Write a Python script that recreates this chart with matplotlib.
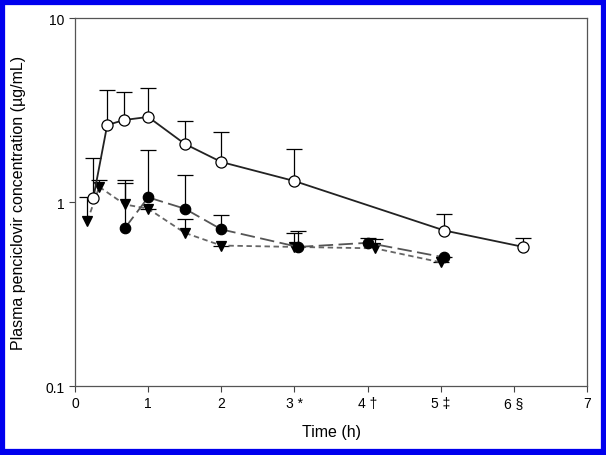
import numpy as np
import matplotlib.pyplot as plt
from matplotlib.patches import Rectangle

plt.rcParams['font.family'] = ['Liberation Sans', 'DejaVu Sans']

# open circles (solid line)
t_open = [0.25, 0.44, 0.67, 1.0, 1.5, 2.0, 3.0, 5.05, 6.13]
c_open = [1.05, 2.62, 2.79, 2.9, 2.07, 1.65, 1.30, 0.70, 0.57]
e_open = [1.73, 4.06, 3.96, 4.17, 2.76, 2.4, 1.94, 0.86, 0.64]

# filled circles (long dash)
t_fill = [0.68, 1.0, 1.5, 2.0, 3.05, 4.0, 5.05]
c_fill = [0.72, 1.06, 0.92, 0.71, 0.57, 0.60, 0.50]
e_fill = [1.32, 1.92, 1.40, 0.85, 0.70, 0.64, 0.50]

# triangles (short dash)
t_tri = [0.17, 0.33, 0.68, 1.0, 1.5, 2.0, 3.0, 4.1, 5.0]
c_tri = [0.79, 1.21, 0.97, 0.92, 0.68, 0.58, 0.57, 0.56, 0.47]
e_tri = [1.06, 1.32, 1.27, 0.92, 0.81, 0.58, 0.68, 0.63, 0.47]

xtick_labels = ['0', '1', '2', '3 *', '4 †', '5 ‡', '6 §', '7']

fig = plt.figure(figsize=(6.06, 4.56), dpi=100)
ax = fig.add_axes([0.1238, 0.1513, 0.8449, 0.807])


def draw(t, c, e, ls, lc, mk, mfc, ms, z):
    t, c, e = np.array(t), np.array(c), np.array(e)
    up = np.clip(e - c, 0, None)
    _, caps, bars = ax.errorbar(t, c, yerr=[np.zeros_like(c), up], fmt='none',
                                ecolor='black', elinewidth=0.9, capsize=6,
                                capthick=0.9, zorder=z)
    caps[0].set_visible(False)
    ax.plot(t, c, linestyle=ls, color=lc, lw=1.3, zorder=z + 0.5)
    ax.plot(t, c, linestyle='none', marker=mk, mfc=mfc, mec='black',
            mew=0.9, ms=ms, zorder=z + 1)


draw(t_tri, c_tri, e_tri, (0, (3, 2)), '#666666', 'v', 'black', 7.5, 2)
draw(t_fill, c_fill, e_fill, (0, (8, 3)), '#555555', 'o', 'black', 7.5, 3)
draw(t_open, c_open, e_open, '-', '#222222', 'o', 'white', 8, 4)

ax.set_yscale('log')
ax.set_ylim(0.1, 10)
ax.set_xlim(0, 7)
ax.set_yticks([0.1, 1, 10])
ax.set_yticklabels(['0.1', '1', '10'])
ax.yaxis.set_minor_locator(plt.NullLocator())
ax.set_xticks(range(8))
ax.set_xticklabels(xtick_labels)
ax.tick_params(direction='out', length=4, width=0.8, labelsize=10, color='#444444')
for s in ax.spines.values():
    s.set_color('#555555')
    s.set_linewidth(0.9)

ax.set_xlabel('Time (h)', fontsize=11.5, labelpad=10)
ax.set_ylabel('Plasma penciclovir concentration (µg/mL)', fontsize=11.5, labelpad=14)

fig.patches.append(Rectangle((0.004, 0.006), 0.992, 0.988, transform=fig.transFigure,
                             fill=False, edgecolor='#0000ee', lw=4.5))

fig.savefig('out.png', dpi=100)
